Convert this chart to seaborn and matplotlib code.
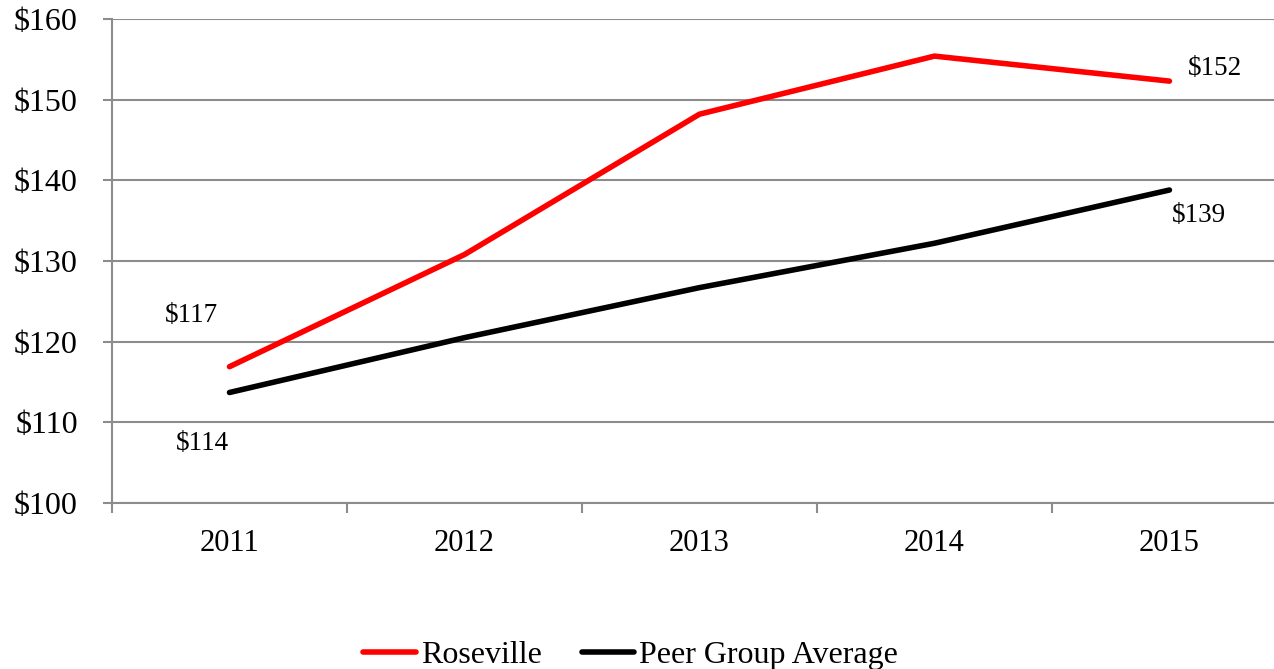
import numpy as np
import pandas as pd
import matplotlib
matplotlib.use("Agg")
import matplotlib.pyplot as plt
import seaborn as sns

years = ["2011", "2012", "2013", "2014", "2015"]
roseville = [116.9, 130.8, 148.2, 155.4, 152.3]
peer_avg = [113.7, 120.5, 126.7, 132.2, 138.8]
series_names = ["Roseville", "Peer Group Average"]
label_text = ["$117", "$114", "$152", "$139"]

sns.set_style("white")
plt.rcParams["font.family"] = ["Liberation Serif", "DejaVu Serif"]
plt.rcParams["text.color"] = "black"
plt.rcParams["xtick.color"] = "black"
plt.rcParams["ytick.color"] = "black"

df = pd.DataFrame({
    "pos": list(range(len(years))) * 2,
    "value": roseville + peer_avg,
    "series": [series_names[0]] * len(years) + [series_names[1]] * len(years),
})

fig = plt.figure(figsize=(12.74, 6.69), dpi=100)
ax = fig.add_axes([0.0879, 0.2481, 0.9121, 0.7235])

sns.lineplot(data=df, x="pos", y="value", hue="series",
             palette={"Roseville": "#ff0000", "Peer Group Average": "#000000"},
             linewidth=4, ax=ax, legend=False, solid_capstyle="round")

ax.set_yticks(np.arange(100, 161, 10))
ax.set_yticklabels([f"${v}" for v in range(100, 161, 10)], fontsize=23)
ax.yaxis.grid(True, color="#8c8c8c", linewidth=1.5)
ax.set_axisbelow(True)

ax.set_xticks(range(len(years)))
ax.set_xticklabels(years, fontsize=22)
ax.set_xticks(np.arange(-0.5, 5, 1), minor=True)
ax.set_xlim(-0.5, 4.445)
ax.set_ylim(100, 160)
ax.tick_params(axis="x", which="major", bottom=True, length=0, pad=19)
ax.tick_params(axis="x", which="minor", bottom=True, length=7, width=1.5,
               color="#8c8c8c", direction="out")
ax.tick_params(axis="y", left=True, length=6.5, width=1.5, color="#8c8c8c",
               labelcolor="black", direction="out", pad=18)
ax.set_xlabel("")
ax.set_ylabel("")

for side in ["top", "right"]:
    ax.spines[side].set_visible(False)
for side in ["left", "bottom"]:
    ax.spines[side].set_color("#8c8c8c")
    ax.spines[side].set_linewidth(1.5)

# data labels at the end points
ax.text(-0.16, roseville[0] + 6.4, label_text[0], fontsize=19.5, ha="center", va="center")
ax.text(-0.113, peer_avg[0] - 6.3, label_text[1], fontsize=19.5, ha="center", va="center")
ax.text(4.194, roseville[4] + 1.6, label_text[2], fontsize=19.5, ha="center", va="center")
ax.text(4.126, peer_avg[4] - 3.1, label_text[3], fontsize=19.5, ha="center", va="center")

handles = [plt.Line2D([], [], color="#ff0000", linewidth=4, solid_capstyle="round"),
           plt.Line2D([], [], color="#000000", linewidth=4, solid_capstyle="round")]
fig.legend(handles, series_names, loc="lower center", bbox_to_anchor=(0.495, -0.045),
           ncol=2, frameon=False, fontsize=23, handlelength=1.65, handletextpad=0.15,
           columnspacing=1.25)

fig.savefig("out.png", dpi=100)
